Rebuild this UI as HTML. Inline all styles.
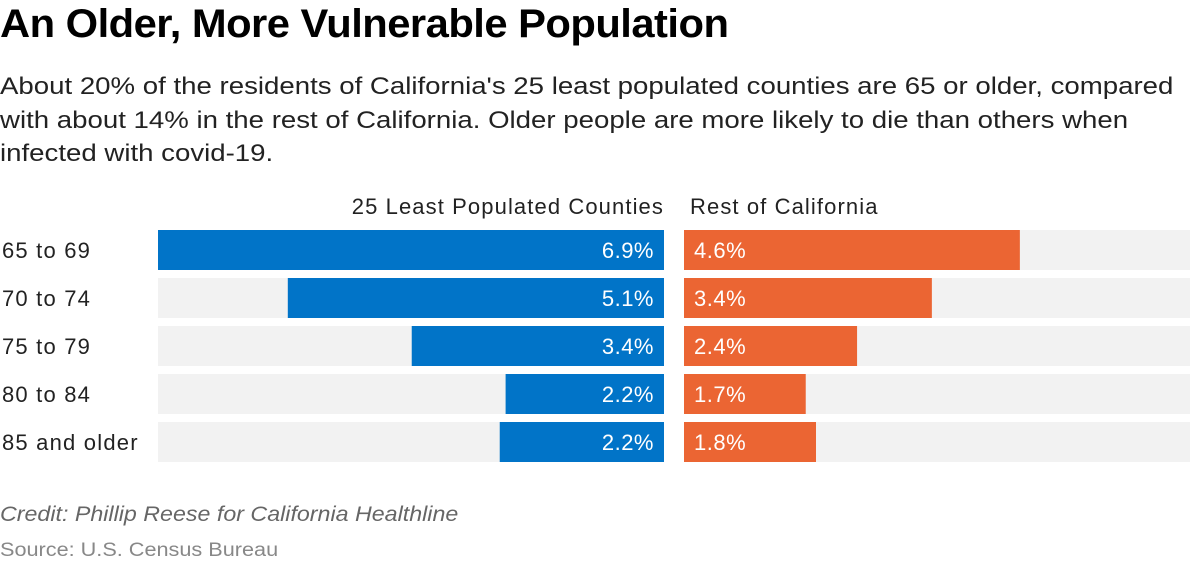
<!DOCTYPE html>
<html><head><meta charset="utf-8"><style>
body{margin:0;width:1200px;height:566px;background:#fff;font-family:"Liberation Sans",Arial,sans-serif;color:#000;position:relative;overflow:hidden}
.t{position:absolute;white-space:nowrap;transform-origin:0 0}
</style></head><body>
<div class="t" style="left:0;top:2px;font-size:40px;font-weight:bold;letter-spacing:-0.5px;transform:scaleX(1.043)">An Older, More Vulnerable Population</div>
<div class="t" style="left:0;top:70px;font-size:24.5px;line-height:33.5px;color:#222;transform:scaleX(1.127)">About 20% of the residents of California's 25 least populated counties are 65 or older, compared<br>with about 14% in the rest of California. Older people are more likely to die than others when<br>infected with covid-19.</div>
<svg id="c" width="1200" height="566" style="position:absolute;left:0;top:0"></svg>
<div class="t" style="left:0;top:503px;font-size:21px;font-style:italic;color:#666;transform:scaleX(1.106)">Credit: Phillip Reese for California Healthline</div>
<div class="t" style="left:0;top:540px;font-size:19px;color:#888;transform:scaleX(1.14)">Source: U.S. Census Bureau</div>
<script>
const categories=["65 to 69","70 to 74","75 to 79","80 to 84","85 and older"];
const leastPopulated=[6.9,5.13,3.44,2.16,2.24];
const restOfCA=[4.58,3.38,2.36,1.66,1.8];
const maxVal=6.9;
const svg=document.getElementById('c');
const NS='http://www.w3.org/2000/svg';
const W=506,L0=158,R0=684,top0=230,pitch=48,bh=40;
const x=v=>v/maxVal*W;
function mk(tag,attrs){const e=document.createElementNS(NS,tag);for(const k in attrs)e.setAttribute(k,attrs[k]);svg.appendChild(e);return e;}
const h1=mk('text',{x:664,y:214,'text-anchor':'end','font-size':22,fill:'#222','letter-spacing':'1.1px'});h1.textContent='25 Least Populated Counties';


const h2=mk('text',{x:690,y:214,'font-size':22,fill:'#222','letter-spacing':'1.1px'});h2.textContent='Rest of California';


categories.forEach((c,i)=>{
 const y=top0+i*pitch;
 const lab=mk('text',{x:2,y:y+28,'font-size':22,fill:'#222','letter-spacing':'1.2px'});lab.textContent=c;
 
 
 const bg1=mk('rect',{x:L0,y:y,width:W,height:bh,fill:'#f2f2f2'});
 
 
 const bg2=mk('rect',{x:R0,y:y,width:W,height:bh,fill:'#f2f2f2'});
 
 
 const lw=x(leastPopulated[i]);
 const b1=mk('rect',{x:L0+W-lw,y:y,width:lw,height:bh,fill:'#0174c8'});
 
 
 const t1=mk('text',{x:L0+W-10,y:y+28,'text-anchor':'end','font-size':22,fill:'#fff','letter-spacing':'0.5px'});t1.textContent=leastPopulated[i].toFixed(1)+'%';
 
 
 const b2=mk('rect',{x:R0,y:y,width:x(restOfCA[i]),height:bh,fill:'#eb6533'});
 
 
 const t2=mk('text',{x:R0+10,y:y+28,'font-size':22,fill:'#fff','letter-spacing':'0.5px'});t2.textContent=restOfCA[i].toFixed(1)+'%';
 
 
});
</script>
</body></html>
